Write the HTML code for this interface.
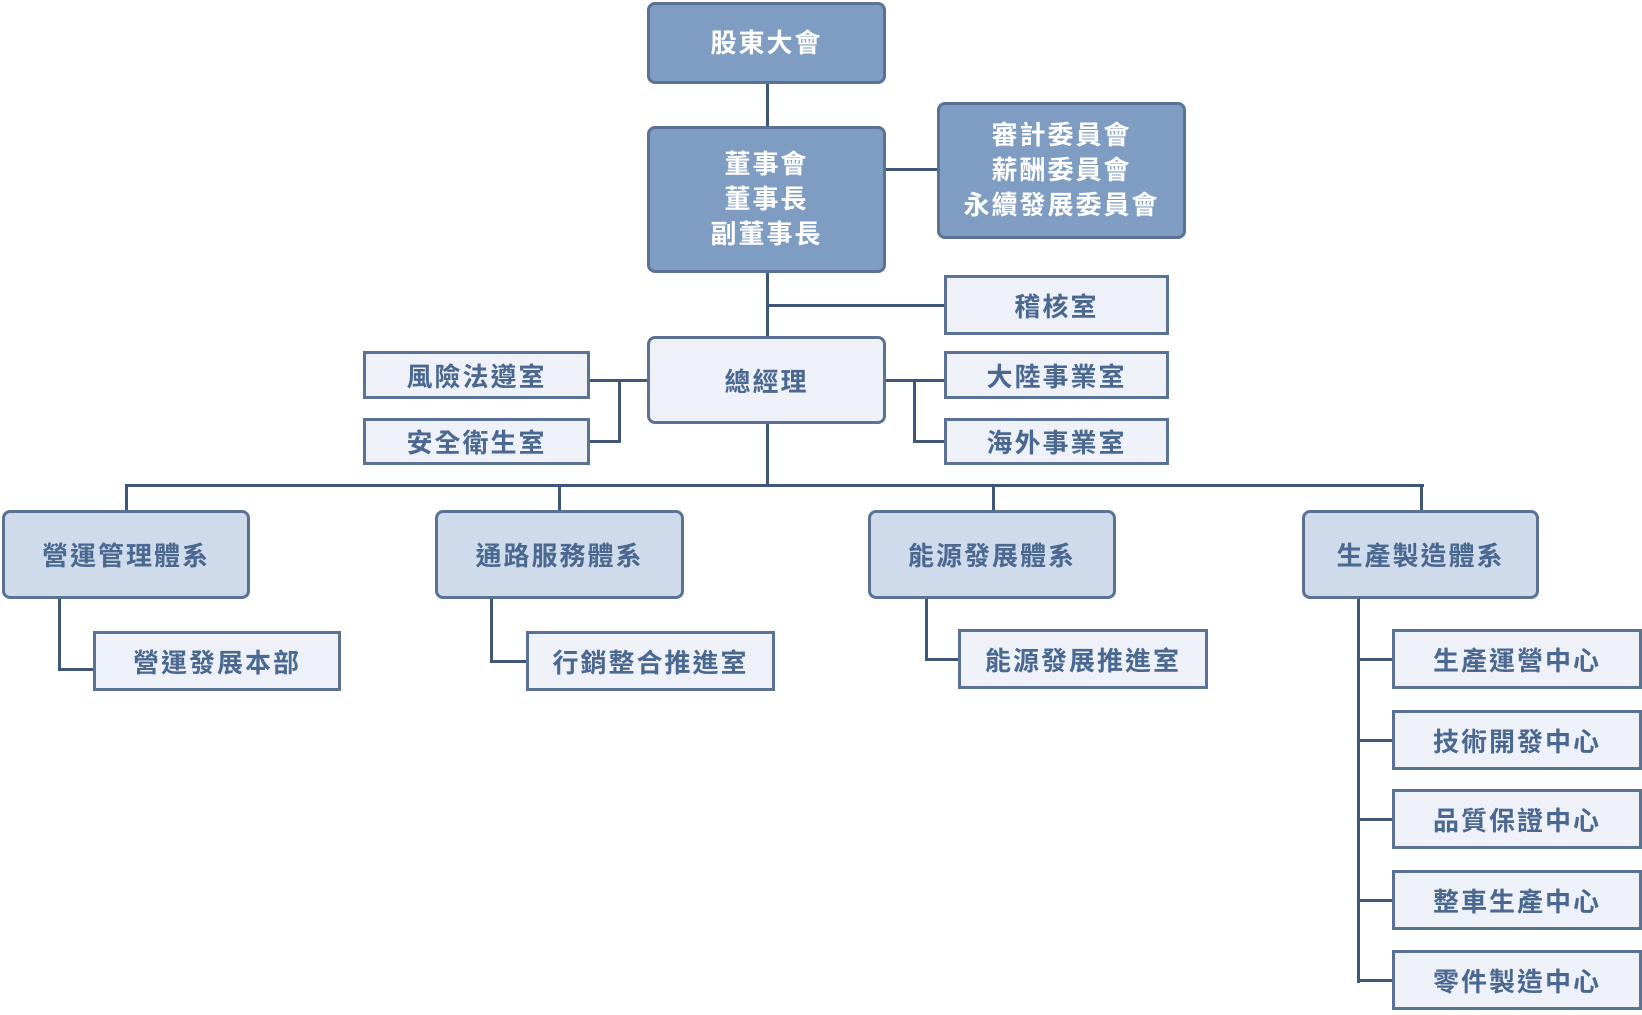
<!DOCTYPE html>
<html><head><meta charset="utf-8"><style>
body{margin:0;width:1642px;height:1015px;background:#fff;position:relative;overflow:hidden;font-family:"Liberation Sans","Noto Sans CJK TC",sans-serif}
.b{position:absolute;box-sizing:border-box;display:flex;align-items:center;justify-content:center;text-align:center;font-size:26px;font-weight:700;letter-spacing:2px;border:3px solid #5b7294}
.d{background:#7f9dc3;color:#fff;border-radius:8px;line-height:35px}
.m{background:#cfdbea;color:#4b6890;border-radius:8px}
.l{background:#eef2f8;color:#4b6890}
.r{border-radius:8px}
.h{position:absolute;background:#3f5677;height:3px}
.v{position:absolute;background:#3f5677;width:3px}
</style></head><body>
<div class="v" style="left:766px;top:84px;height:42px"></div>
<div class="h" style="left:886px;top:168px;width:51px"></div>
<div class="v" style="left:766px;top:273px;height:63px"></div>
<div class="h" style="left:766px;top:304px;width:178px"></div>
<div class="h" style="left:590px;top:379px;width:58px"></div>
<div class="v" style="left:618px;top:379px;height:63px"></div>
<div class="h" style="left:590px;top:440px;width:31px"></div>
<div class="h" style="left:886px;top:379px;width:58px"></div>
<div class="v" style="left:913px;top:379px;height:63px"></div>
<div class="h" style="left:913px;top:440px;width:31px"></div>
<div class="v" style="left:766px;top:424px;height:63px"></div>
<div class="h" style="left:125px;top:484px;width:1299px"></div>
<div class="v" style="left:125px;top:484px;height:26px"></div>
<div class="v" style="left:558px;top:484px;height:26px"></div>
<div class="v" style="left:992px;top:484px;height:26px"></div>
<div class="v" style="left:1420px;top:484px;height:26px"></div>
<div class="v" style="left:58px;top:599px;height:72px"></div>
<div class="h" style="left:58px;top:668px;width:36px"></div>
<div class="v" style="left:490px;top:599px;height:64px"></div>
<div class="h" style="left:490px;top:660px;width:36px"></div>
<div class="v" style="left:925px;top:599px;height:62px"></div>
<div class="h" style="left:925px;top:658px;width:34px"></div>
<div class="v" style="left:1357px;top:599px;height:384px"></div>
<div class="h" style="left:1357px;top:658px;width:36px"></div>
<div class="h" style="left:1357px;top:739px;width:36px"></div>
<div class="h" style="left:1357px;top:818px;width:36px"></div>
<div class="h" style="left:1357px;top:899px;width:36px"></div>
<div class="h" style="left:1357px;top:979px;width:36px"></div>
<div class="b d" style="left:647px;top:2px;width:239px;height:82px">股東大會</div>
<div class="b d" style="left:647px;top:126px;width:239px;height:147px">董事會<br>董事長<br>副董事長</div>
<div class="b d" style="left:937px;top:102px;width:249px;height:137px">審計委員會<br>薪酬委員會<br>永續發展委員會</div>
<div class="b l" style="left:944px;top:275px;width:225px;height:60px">稽核室</div>
<div class="b l r" style="left:647px;top:336px;width:239px;height:88px">總經理</div>
<div class="b l" style="left:944px;top:351px;width:225px;height:48px">大陸事業室</div>
<div class="b l" style="left:944px;top:418px;width:225px;height:47px">海外事業室</div>
<div class="b l" style="left:363px;top:351px;width:227px;height:48px">風險法遵室</div>
<div class="b l" style="left:363px;top:418px;width:227px;height:47px">安全衛生室</div>
<div class="b m" style="left:2px;top:510px;width:248px;height:89px">營運管理體系</div>
<div class="b m" style="left:435px;top:510px;width:249px;height:89px">通路服務體系</div>
<div class="b m" style="left:868px;top:510px;width:248px;height:89px">能源發展體系</div>
<div class="b m" style="left:1302px;top:510px;width:237px;height:89px">生產製造體系</div>
<div class="b l" style="left:93px;top:631px;width:248px;height:60px">營運發展本部</div>
<div class="b l" style="left:526px;top:631px;width:249px;height:60px">行銷整合推進室</div>
<div class="b l" style="left:958px;top:629px;width:250px;height:60px">能源發展推進室</div>
<div class="b l" style="left:1392px;top:629px;width:250px;height:60px">生產運營中心</div>
<div class="b l" style="left:1392px;top:710px;width:250px;height:60px">技術開發中心</div>
<div class="b l" style="left:1392px;top:789px;width:250px;height:60px">品質保證中心</div>
<div class="b l" style="left:1392px;top:870px;width:250px;height:60px">整車生產中心</div>
<div class="b l" style="left:1392px;top:950px;width:250px;height:60px">零件製造中心</div>
</body></html>
